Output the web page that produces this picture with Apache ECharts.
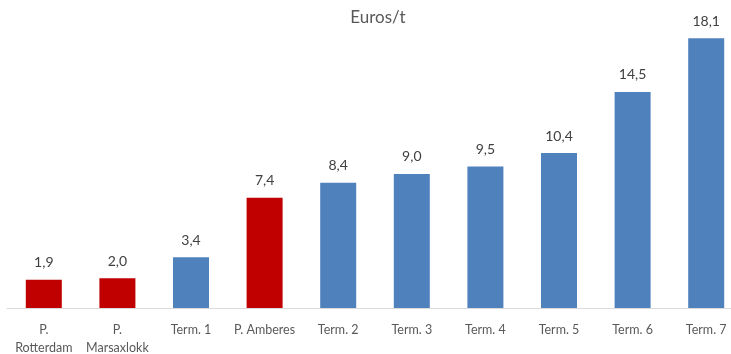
<!DOCTYPE html>
<html>
<head>
<meta charset="utf-8">
<script src="https://cdn.jsdelivr.net/npm/echarts@6/dist/echarts.min.js"></script>
<style>
  html, body { margin: 0; padding: 0; background: #fff; }
  #chart { width: 731px; height: 354px; }
</style>
</head>
<body>
<div id="chart"></div>
<script>
// Cost per tonne by port / terminal
const categories = ['P.\nRotterdam', 'P.\nMarsaxlokk', 'Term. 1', 'P. Amberes', 'Term. 2', 'Term. 3', 'Term. 4', 'Term. 5', 'Term. 6', 'Term. 7'];
const values = [1.9, 2.0, 3.4, 7.4, 8.4, 9.0, 9.5, 10.4, 14.5, 18.1];
const isPort = [true, true, false, true, false, false, false, false, false, false];

const RED = '#c00000';
const BLUE = '#4f81bd';

const chart = echarts.init(document.getElementById('chart'));
chart.setOption({
  animation: false,
  title: {
    text: 'Euros/t',
    left: 373,
    top: 4,
    textAlign: 'center',
    textStyle: { fontFamily: 'Lato', fontSize: 17, fontWeight: 'normal', color: '#595959' }
  },
  grid: { left: 7, width: 736, top: 10, bottom: 46, containLabel: false, outerBoundsMode: 'none' },
  xAxis: {
    type: 'category',
    data: categories,
    axisLine: { lineStyle: { color: '#d9d9d9', width: 1 } },
    axisTick: { show: false },
    axisLabel: {
      interval: 0,
      margin: 13,
      fontFamily: 'Lato',
      fontSize: 12.5,
      color: '#595959',
      lineHeight: 18
    }
  },
  yAxis: {
    type: 'value',
    min: 0,
    max: 20,
    show: false,
    splitLine: { show: false }
  },
  series: [{
    type: 'bar',
    barWidth: 36,
    data: values.map((v, i) => ({ value: v, itemStyle: { color: isPort[i] ? RED : BLUE } })),
    label: {
      show: true,
      position: 'top',
      distance: 10,
      fontFamily: 'Lato',
      fontSize: 14,
      color: '#404040',
      formatter: p => p.value.toFixed(1).replace('.', ',')
    }
  }]
});
</script>
</body>
</html>
